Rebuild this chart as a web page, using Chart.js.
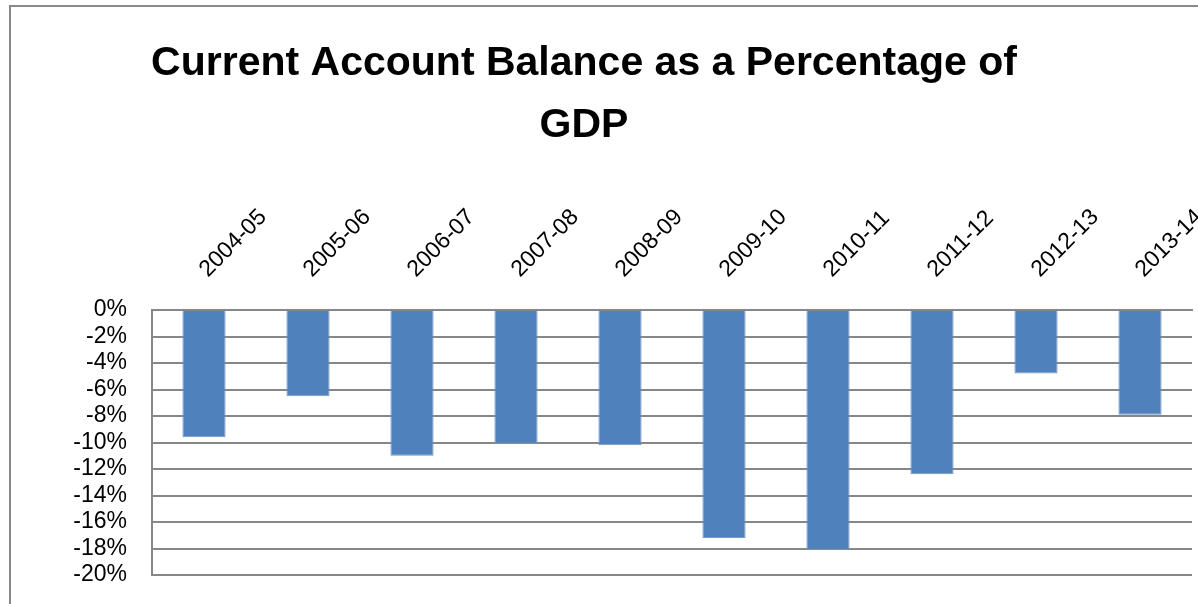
<!DOCTYPE html>
<html>
<head>
<meta charset="utf-8">
<script src="https://cdn.jsdelivr.net/npm/chart.js@4.4.1/dist/chart.umd.min.js"></script>
<style>
  html, body { margin: 0; padding: 0; background: #ffffff; overflow: hidden; width: 1198px; height: 604px; position: relative; }
  #frame { position: absolute; left: 9px; top: 5px; width: 1300px; height: 700px; border-left: 2px solid #898989; border-top: 2px solid #898989; }
  #c { position: absolute; left: -24px; top: 0; }
</style>
</head>
<body>
<div id="frame"></div>
<canvas id="c" width="1222" height="604"></canvas>
<script>
const titleLines = ['Current Account Balance as a Percentage of', 'GDP'];
const categories = ['2004-05', '2005-06', '2006-07', '2007-08', '2008-09', '2009-10', '2010-11', '2011-12', '2012-13', '2013-14'];
const balancePct = [-9.6, -6.5, -11.0, -10.1, -10.2, -17.2, -18.1, -12.4, -4.8, -7.9];
const yMin = -20, yMax = 0, yStep = 2;

const gridColor = '#878787';
const TITLE_PAD_TOP = 33, TITLE_LH = 62;
const titleBottom = TITLE_PAD_TOP + TITLE_LH * titleLines.length;

new Chart(document.getElementById('c'), {
  type: 'bar',
  data: {
    labels: categories,
    datasets: [{
      data: balancePct,
      backgroundColor: '#4F81BD',
      borderColor: '#6F97C9',
      borderWidth: 1,
      borderSkipped: 'start',
      categoryPercentage: 1,
      barPercentage: 0.415
    }]
  },
  options: {
    responsive: false,
    devicePixelRatio: 1,
    animation: false,
    layout: { padding: { left: 0, right: 6, top: 0, bottom: 29 } },
    plugins: {
      legend: { display: false },
      tooltip: { enabled: false },
      title: {
        display: true,
        text: titleLines,
        color: '#000000',
        font: { family: '"Liberation Sans", Arial, sans-serif', size: 41, weight: 'bold', lineHeight: TITLE_LH / 41 },
        padding: { top: TITLE_PAD_TOP, bottom: 0 }
      }
    },
    scales: {
      x: {
        position: 'top',
        grid: { display: false, drawTicks: false },
        border: { display: true, color: gridColor, width: 2 },
        ticks: {
          autoSkip: false,
          minRotation: 45,
          maxRotation: 45,
          padding: 27,
          labelOffset: 19,
          color: '#000000',
          font: { family: '"Liberation Sans", Arial, sans-serif', size: 23 }
        },
        afterFit: function(scale) {
          scale.height = 310 - titleBottom;
          scale.paddingLeft = 0;
          scale.paddingRight = 0;
        }
      },
      y: {
        min: yMin,
        max: yMax,
        grid: { display: true, color: gridColor, lineWidth: 2, drawTicks: false },
        border: { display: true, color: gridColor, width: 2 },
        ticks: {
          autoSkip: false,
          stepSize: yStep,
          padding: 25,
          color: '#000000',
          font: { family: '"Liberation Sans", Arial, sans-serif', size: 23 },
          callback: function(v) { return v + '%'; }
        },
        afterFit: function(scale) {
          scale.width = 176;
          scale.paddingTop = 0;
          scale.paddingBottom = 0;
        }
      }
    }
  }
});
</script>
</body>
</html>
